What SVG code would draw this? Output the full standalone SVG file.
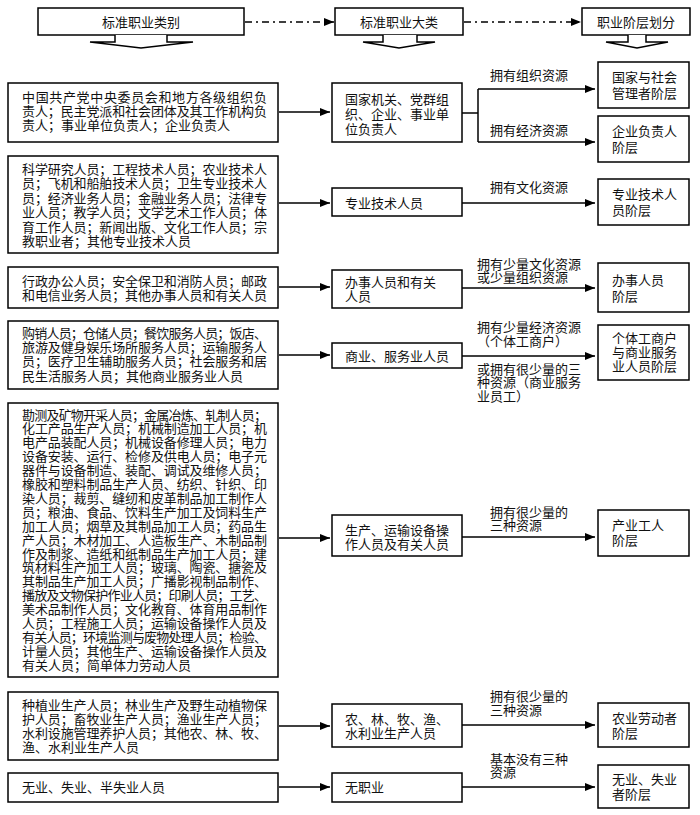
<svg xmlns="http://www.w3.org/2000/svg" width="700" height="815" viewBox="0 0 700 815">
<style>
.box{fill:#fff;stroke:#000;stroke-width:1.5}
.t{font-family:"Noto Sans CJK SC","Noto Sans CJK JP",sans-serif;font-size:13px;fill:#111}
.m{text-anchor:middle}
.c{stroke:#000;stroke-width:1.5;fill:none}
.a{marker-end:url(#ah)}
.dd{stroke-dasharray:7 4 2 4}
.da{fill:#fff;stroke:#000;stroke-width:1.5}
</style>
<defs>
<marker id="ah" markerWidth="10" markerHeight="8" refX="10" refY="4" orient="auto" markerUnits="userSpaceOnUse"><path d="M0,0 L10,4 L0,8 z" fill="#000"/></marker>
</defs>
<rect width="700" height="815" fill="#fff"/>

<g id="h1"><rect class="box" x="38" y="8" width="206" height="27"/><text class="t m" x="141" y="26.5">标准职业类别</text><polyline class="da" points="115,35 115,42 90,42 141,48 193,42 167,42 167,35"/></g>
<g id="h2"><rect class="box" x="335" y="8" width="128" height="27"/><text class="t m" x="399" y="26.5">标准职业大类</text><polyline class="da" points="383,35 383,42 363,42 399,48 435,42 417,42 417,35"/></g>
<g id="h3"><rect class="box" x="582" y="8" width="108" height="27"/><text class="t m" x="636" y="26.5">职业阶层划分</text><polyline class="da" points="628,35 628,42 606,42 637,48 668,42 646,42 646,35"/></g>

<g id="b1"><rect class="box" x="8" y="83" width="270" height="59"/>
<text class="t"><tspan x="22" y="102" textLength="245" lengthAdjust="spacing">中国共产党中央委员会和地方各级组织负</tspan><tspan x="22" y="116" textLength="245" lengthAdjust="spacing">责人；民主党派和社会团体及其工作机构负</tspan><tspan x="22" y="130">责人；事业单位负责人；企业负责人</tspan></text></g>

<g id="b2"><rect class="box" x="8" y="156" width="270" height="97"/>
<text class="t"><tspan x="22" y="173.5" textLength="245" lengthAdjust="spacing">科学研究人员；工程技术人员；农业技术人</tspan><tspan x="22" y="188" textLength="245" lengthAdjust="spacing">员；飞机和船舶技术人员；卫生专业技术人</tspan><tspan x="22" y="202.5" textLength="245" lengthAdjust="spacing">员；经济业务人员；金融业务人员；法律专</tspan><tspan x="22" y="217" textLength="245" lengthAdjust="spacing">业人员；教学人员；文学艺术工作人员；体</tspan><tspan x="22" y="231.5" textLength="245" lengthAdjust="spacing">育工作人员；新闻出版、文化工作人员；宗</tspan><tspan x="22" y="246">教职业者；其他专业技术人员</tspan></text></g>

<g id="b3"><rect class="box" x="8" y="267" width="270" height="41"/>
<text class="t"><tspan x="22" y="285.5" textLength="245" lengthAdjust="spacing">行政办公人员；安全保卫和消防人员；邮政</tspan><tspan x="22" y="299.5" textLength="245" lengthAdjust="spacing">和电信业务人员；其他办事人员和有关人员</tspan></text></g>

<g id="b4"><rect class="box" x="8" y="321" width="270" height="68"/>
<text class="t"><tspan x="22" y="337.5" textLength="245" lengthAdjust="spacing">购销人员；仓储人员；餐饮服务人员；饭店、</tspan><tspan x="22" y="352" textLength="245" lengthAdjust="spacing">旅游及健身娱乐场所服务人员；运输服务人</tspan><tspan x="22" y="366.3" textLength="245" lengthAdjust="spacing">员；医疗卫生辅助服务人员；社会服务和居</tspan><tspan x="22" y="380.5">民生活服务人员；其他商业服务业人员</tspan></text></g>

<g id="b5"><rect class="box" x="8" y="403" width="270" height="274"/>
<text class="t"><tspan x="22" y="419.5" textLength="245" lengthAdjust="spacing">勘测及矿物开采人员；金属冶炼、轧制人员；</tspan><tspan x="22" y="433.4" textLength="245" lengthAdjust="spacing">化工产品生产人员；机械制造加工人员；机</tspan><tspan x="22" y="447.3" textLength="245" lengthAdjust="spacing">电产品装配人员；机械设备修理人员；电力</tspan><tspan x="22" y="461.2" textLength="245" lengthAdjust="spacing">设备安装、运行、检修及供电人员；电子元</tspan><tspan x="22" y="475.1" textLength="245" lengthAdjust="spacing">器件与设备制造、装配、调试及维修人员；</tspan><tspan x="22" y="489" textLength="245" lengthAdjust="spacing">橡胶和塑料制品生产人员、纺织、针织、印</tspan><tspan x="22" y="502.9" textLength="245" lengthAdjust="spacing">染人员；裁剪、缝纫和皮革制品加工制作人</tspan><tspan x="22" y="516.8" textLength="245" lengthAdjust="spacing">员；粮油、食品、饮料生产加工及饲料生产</tspan><tspan x="22" y="530.7" textLength="245" lengthAdjust="spacing">加工人员；烟草及其制品加工人员；药品生</tspan><tspan x="22" y="544.6" textLength="245" lengthAdjust="spacing">产人员；木材加工、人造板生产、木制品制</tspan><tspan x="22" y="558.5" textLength="245" lengthAdjust="spacing">作及制浆、造纸和纸制品生产加工人员；建</tspan><tspan x="22" y="572.4" textLength="245" lengthAdjust="spacing">筑材料生产加工人员；玻璃、陶瓷、搪瓷及</tspan><tspan x="22" y="586.3" textLength="245" lengthAdjust="spacing">其制品生产加工人员；广播影视制品制作、</tspan><tspan x="22" y="600.2" textLength="245" lengthAdjust="spacing">播放及文物保护作业人员；印刷人员；工艺、</tspan><tspan x="22" y="614.1" textLength="245" lengthAdjust="spacing">美术品制作人员；文化教育、体育用品制作</tspan><tspan x="22" y="628" textLength="245" lengthAdjust="spacing">人员；工程施工人员；运输设备操作人员及</tspan><tspan x="22" y="641.9" textLength="245" lengthAdjust="spacing">有关人员；环境监测与废物处理人员；检验、</tspan><tspan x="22" y="655.8" textLength="245" lengthAdjust="spacing">计量人员；其他生产、运输设备操作人员及</tspan><tspan x="22" y="669.7">有关人员；简单体力劳动人员</tspan></text></g>

<g id="b6"><rect class="box" x="8" y="692" width="270" height="68"/>
<text class="t"><tspan x="22" y="709.5" textLength="245" lengthAdjust="spacing">种植业生产人员；林业生产及野生动植物保</tspan><tspan x="22" y="723.5" textLength="245" lengthAdjust="spacing">护人员；畜牧业生产人员；渔业生产人员；</tspan><tspan x="22" y="737.5" textLength="245" lengthAdjust="spacing">水利设施管理养护人员；其他农、林、牧、</tspan><tspan x="22" y="751.5">渔、水利业生产人员</tspan></text></g>

<g id="b7"><rect class="box" x="8" y="773" width="270" height="29"/>
<text class="t" x="22" y="791.5">无业、失业、半失业人员</text></g>

<g id="m1"><rect class="box" x="332" y="83" width="130" height="59"/>
<text class="t"><tspan x="345" y="103.5">国家机关、党群组</tspan><tspan x="345" y="118.5">织、企业、事业单</tspan><tspan x="345" y="133.5">位负责人</tspan></text></g>
<g id="m2"><rect class="box" x="332" y="188" width="130" height="28"/><text class="t" x="345" y="207.5">专业技术人员</text></g>
<g id="m3"><rect class="box" x="332" y="270" width="130" height="38"/><text class="t"><tspan x="345" y="286.5">办事人员和有关</tspan><tspan x="345" y="300.5">人员</tspan></text></g>
<g id="m4"><rect class="box" x="332" y="343" width="130" height="25"/><text class="t" x="345" y="360.5">商业、服务业人员</text></g>
<g id="m5"><rect class="box" x="332" y="515" width="130" height="41"/><text class="t"><tspan x="345" y="534.5">生产、运输设备操</tspan><tspan x="345" y="548.5">作人员及有关人员</tspan></text></g>
<g id="m6"><rect class="box" x="332" y="704" width="130" height="43"/><text class="t"><tspan x="345" y="723.5">农、林、牧、渔、</tspan><tspan x="345" y="737.5">水利业生产人员</tspan></text></g>
<g id="m7"><rect class="box" x="332" y="773" width="130" height="29"/><text class="t" x="345" y="791.5">无职业</text></g>

<g id="r1"><rect class="box" x="598" y="62" width="91" height="46"/><text class="t"><tspan x="612" y="81.5">国家与社会</tspan><tspan x="612" y="97.5">管理者阶层</tspan></text></g>
<g id="r1b"><rect class="box" x="598" y="116" width="91" height="46"/><text class="t"><tspan x="612" y="135.5">企业负责人</tspan><tspan x="612" y="151.5">阶层</tspan></text></g>
<g id="r2"><rect class="box" x="598" y="179" width="91" height="46"/><text class="t"><tspan x="612" y="198.5">专业技术人</tspan><tspan x="612" y="214.5">员阶层</tspan></text></g>
<g id="r3"><rect class="box" x="598" y="263" width="91" height="49"/><text class="t"><tspan x="612" y="284.5">办事人员</tspan><tspan x="612" y="300.5">阶层</tspan></text></g>
<g id="r4"><rect class="box" x="598" y="325" width="91" height="55"/><text class="t"><tspan x="612" y="342.5">个体工商户</tspan><tspan x="612" y="356.5">与商业服务</tspan><tspan x="612" y="370.5">业人员阶层</tspan></text></g>
<g id="r5"><rect class="box" x="598" y="510" width="91" height="46"/><text class="t"><tspan x="612" y="529.5">产业工人</tspan><tspan x="612" y="544.5">阶层</tspan></text></g>
<g id="r6"><rect class="box" x="598" y="703" width="91" height="44"/><text class="t"><tspan x="612" y="722.5">农业劳动者</tspan><tspan x="612" y="737.5">阶层</tspan></text></g>
<g id="r7"><rect class="box" x="598" y="765" width="91" height="43"/><text class="t"><tspan x="612" y="783.5">无业、失业</tspan><tspan x="612" y="798.5">者阶层</tspan></text></g>

<g id="connectors">
<line class="c a dd" x1="245" y1="22" x2="334" y2="22"/>
<line class="c a dd" x1="464" y1="22" x2="581" y2="22"/>
<line class="c a" x1="279" y1="112" x2="330" y2="112"/>
<line class="c a" x1="279" y1="203" x2="330" y2="203"/>
<line class="c a" x1="279" y1="287" x2="330" y2="287"/>
<line class="c a" x1="279" y1="355" x2="330" y2="355"/>
<line class="c a" x1="279" y1="538" x2="330" y2="538"/>
<line class="c a" x1="279" y1="726" x2="330" y2="726"/>
<line class="c a" x1="279" y1="787" x2="330" y2="787"/>
<polyline class="c" points="462,113 478,113"/>
<polyline class="c" points="478,89 478,142"/>
<line class="c a" x1="478" y1="89" x2="595" y2="89"/>
<line class="c a" x1="478" y1="142" x2="595" y2="142"/>
<line class="c a" x1="462" y1="203" x2="595" y2="203"/>
<line class="c a" x1="462" y1="288" x2="595" y2="288"/>
<line class="c a" x1="462" y1="356" x2="595" y2="356"/>
<line class="c a" x1="462" y1="537" x2="595" y2="537"/>
<line class="c a" x1="462" y1="725" x2="595" y2="725"/>
<line class="c a" x1="462" y1="787" x2="595" y2="787"/>
</g>

<g id="labels">
<text class="t" x="490" y="79.5">拥有组织资源</text>
<text class="t" x="490" y="134.5">拥有经济资源</text>
<text class="t" x="490" y="191.5">拥有文化资源</text>
<text class="t"><tspan x="477" y="268.5">拥有少量文化资源</tspan><tspan x="477" y="281.5">或少量组织资源</tspan></text>
<text class="t"><tspan x="477" y="331.5">拥有少量经济资源</tspan><tspan x="477" y="345.5">（个体工商户）</tspan></text>
<text class="t"><tspan x="477" y="373.5">或拥有很少量的三</tspan><tspan x="477" y="387">种资源（商业服务</tspan><tspan x="477" y="400.5">业员工）</tspan></text>
<text class="t"><tspan x="490" y="516.5">拥有很少量的</tspan><tspan x="490" y="529.5">三种资源</tspan></text>
<text class="t"><tspan x="490" y="700.5">拥有很少量的</tspan><tspan x="490" y="714.5">三种资源</tspan></text>
<text class="t"><tspan x="490" y="763.5">基本没有三种</tspan><tspan x="490" y="776.5">资源</tspan></text>
</g>
</svg>
